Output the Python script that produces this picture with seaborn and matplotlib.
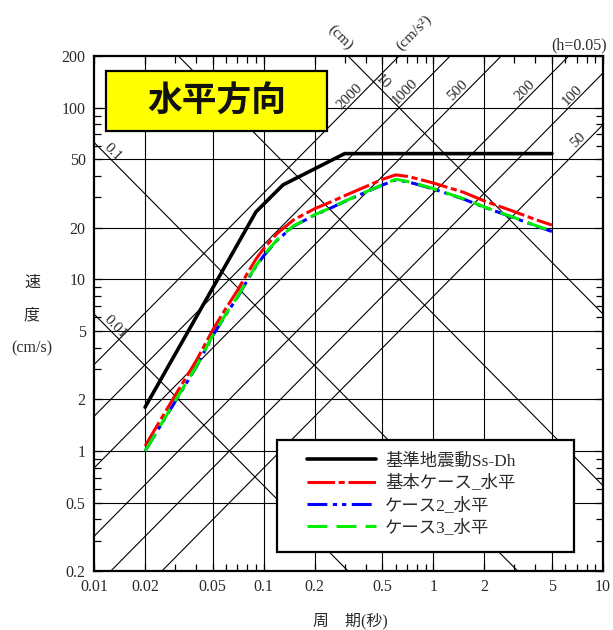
import numpy as np
import pandas as pd
import matplotlib
matplotlib.use("Agg")
import matplotlib.pyplot as plt
import seaborn as sns
from matplotlib.patches import Rectangle
from matplotlib.ticker import FixedLocator, FixedFormatter, NullFormatter

# ---------------- data ----------------
periods = [0.02, 0.03, 0.04, 0.05, 0.06, 0.07, 0.08, 0.09, 0.10, 0.12, 0.15, 0.20,
           0.25, 0.30, 0.40, 0.50, 0.60, 0.70, 0.80, 1.0, 1.5, 2.0, 3.0, 4.0, 5.0]
ss_periods = [0.02, 0.09, 0.13, 0.30, 5.0]
ss_vel = [1.8, 24.7, 35.5, 54.0, 54.0]
base_vel = [1.07, 2.1, 3.35, 5.05, 6.8, 8.6, 10.8, 13.1, 15.1, 18.5, 22.2, 25.8,
            28.3, 30.7, 34.7, 38.2, 40.6, 39.8, 38.6, 36.4, 32.2, 28.6, 24.8, 22.3, 20.7]
case2_vel = [1.0, 1.93, 3.08, 4.68, 6.25, 7.85, 9.85, 11.9, 13.7, 16.9, 20.4, 23.7,
             26.1, 28.4, 32.2, 35.4, 38.0, 37.0, 35.8, 33.6, 29.4, 26.3, 22.8, 20.5, 19.0]
case3_vel = [1.0, 1.95, 3.1, 4.7, 6.3, 7.9, 9.9, 12.0, 13.8, 17.0, 20.5, 23.8,
             26.2, 28.5, 32.3, 35.5, 38.3, 37.2, 36.0, 33.8, 29.5, 26.4, 22.9, 20.6, 19.1]

series_names = ["基準地震動Ss-Dh", "基本ケース_水平", "ケース2_水平", "ケース3_水平"]

x_ticks = [0.01, 0.02, 0.05, 0.1, 0.2, 0.5, 1, 2, 5, 10]
x_ticklabels = ["0.01", "0.02", "0.05", "0.1", "0.2", "0.5", "1", "2", "5", "10"]
y_ticks = [0.2, 0.5, 1, 2, 5, 10, 20, 50, 100, 200]
y_ticklabels = ["0.2", "0.5", "1", "2", "5", "10", "20", "50", "100", "200"]

disp_lines = [0.01, 0.1, 1, 10]            # cm
acc_lines = [50, 100, 200, 500, 1000, 2000]  # cm/s2
disp_labels = {0.01: ("0.01", 0.0126), 0.1: ("0.1", 0.0121), 10: ("10", 0.47)}
acc_labels = {2000: ("2000", 0.344), 1000: ("1000", 0.728), 500: ("500", 1.49),
              200: ("200", 3.71), 100: ("100", 7.0), 50: ("50", 7.6)}

# ---------------- style ----------------
sns.set_theme(style="white")
plt.rcParams["font.family"] = ["Liberation Serif", "Noto Sans CJK JP"]
plt.rcParams["axes.unicode_minus"] = False
txt_col = "#2a2a2a"

fig = plt.figure(figsize=(6.13, 6.30), dpi=100)
ax = fig.add_axes([94 / 613, 1 - 571 / 630, 509 / 613, 515 / 630])
ax.set_xscale("log")
ax.set_yscale("log")
ax.set_xlim(0.01, 10)
ax.set_ylim(0.2, 200)

# grid
for t in x_ticks[1:-1]:
    ax.axvline(t, color="black", lw=0.8, zorder=1)
for v in y_ticks[1:-1]:
    ax.axhline(v, color="black", lw=0.8, zorder=1)

# tripartite diagonals
T = np.logspace(-2.2, 1.2, 100)
for d in disp_lines:
    ax.plot(T, 2 * np.pi * d / T, color="black", lw=0.8, zorder=1)
for a in acc_lines:
    ax.plot(T, a * T / (2 * np.pi), color="black", lw=0.8, zorder=1)

for d, (txt, tp) in disp_labels.items():
    ax.text(tp, 2 * np.pi * d / tp, txt, rotation=-45, rotation_mode="anchor",
            ha="center", va="bottom", fontsize=11, color=txt_col, zorder=2)
for a, (txt, tp) in acc_labels.items():
    ax.text(tp, a * tp / (2 * np.pi), txt, rotation=45, rotation_mode="anchor",
            ha="center", va="bottom", fontsize=11, color=txt_col, zorder=2)

# data series
df_ss = pd.DataFrame({"T": ss_periods, "v": ss_vel})
df_base = pd.DataFrame({"T": periods, "v": base_vel})
df_c2 = pd.DataFrame({"T": periods, "v": case2_vel})
df_c3 = pd.DataFrame({"T": periods, "v": case3_vel})

sns.lineplot(data=df_ss, x="T", y="v", ax=ax, color="black", lw=2.6,
             label=series_names[0], zorder=3)
sns.lineplot(data=df_base, x="T", y="v", ax=ax, color="red", lw=2.2,
             linestyle=(0, (9, 1.2, 2, 1.2)), label=series_names[1], zorder=3)
sns.lineplot(data=df_c2, x="T", y="v", ax=ax, color="blue", lw=2.2,
             linestyle=(0, (6.5, 1.8, 1.4, 1.6, 1.4, 1.8)), label=series_names[2], zorder=3)
sns.lineplot(data=df_c3, x="T", y="v", ax=ax, color="#00ee00", lw=2.2,
             linestyle=(0, (6.5, 3)), label=series_names[3], zorder=3)

# ticks
ax.xaxis.set_major_locator(FixedLocator(x_ticks))
ax.xaxis.set_major_formatter(FixedFormatter(x_ticklabels))
ax.yaxis.set_major_locator(FixedLocator(y_ticks))
ax.yaxis.set_major_formatter(FixedFormatter(y_ticklabels))
ax.xaxis.set_minor_locator(matplotlib.ticker.LogLocator(base=10, subs=[3, 4, 6, 7, 8, 9]))
ax.yaxis.set_minor_locator(matplotlib.ticker.LogLocator(base=10, subs=[3, 4, 6, 7, 8, 9]))
ax.xaxis.set_minor_formatter(NullFormatter())
ax.yaxis.set_minor_formatter(NullFormatter())
ax.tick_params(which="both", direction="in", top=True, right=True, bottom=True, left=True,
               color="black", width=0.9, labelsize=11.5, labelcolor=txt_col)
ax.tick_params(which="major", length=6, pad=6)
ax.tick_params(which="minor", length=5)
for s in ax.spines.values():
    s.set_color("black")
    s.set_linewidth(1.6)
ax.set_xlabel("")
ax.set_ylabel("")
ax.grid(False)

# legend box + legend
ax.add_patch(Rectangle((0.3595, 0.0369), 0.5835, 0.2175, transform=ax.transAxes,
                       facecolor="white", edgecolor="black", lw=1.6, zorder=4))
leg = ax.legend(loc="upper left", bbox_to_anchor=(0.4185, 0.2285), frameon=False,
                borderaxespad=0, borderpad=0, handlelength=4.0, handletextpad=0.5,
                labelspacing=0.3, fontsize=12.5)
leg.set_zorder(5)
for t in leg.get_texts():
    t.set_color(txt_col)

# title box
ax.add_patch(Rectangle((0.0236, 0.8544), 0.4342, 0.1165, transform=ax.transAxes,
                       facecolor="#ffff00", edgecolor="black", lw=1.6, zorder=4))
ax.text(0.0236 + 0.4342 / 2, 0.8544 + 0.1165 / 2, "水平方向", transform=ax.transAxes,
        ha="center", va="center", fontsize=25, fontweight="bold",
        family=["Noto Sans CJK JP"], color="#111111", zorder=5)

# axis labels
fig.text(32 / 613, 1 - 283 / 630, "速", ha="center", va="center", fontsize=11.5, color=txt_col)
fig.text(32 / 613, 1 - 315 / 630, "度", ha="center", va="center", fontsize=11.5, color=txt_col)
fig.text(32 / 613, 1 - 348 / 630, "(cm/s)", ha="center", va="center", fontsize=11.5, color=txt_col)
fig.text(350 / 613, 1 - 621 / 630, "周　期(秒)", ha="center", va="center", fontsize=11.5, color=txt_col)

# top annotations
fig.text(607 / 613, 1 - 45 / 630, "(h=0.05)", ha="right", va="center", fontsize=11.5, color=txt_col)
fig.text(340 / 613, 1 - 37 / 630, "(cm)", ha="center", va="center", rotation=-45, fontsize=11, color=txt_col)
fig.text(414 / 613, 1 - 33 / 630, "(cm/s²)", ha="center", va="center", rotation=45, fontsize=11, color=txt_col)

fig.savefig("out.png", dpi=100, facecolor="white")
